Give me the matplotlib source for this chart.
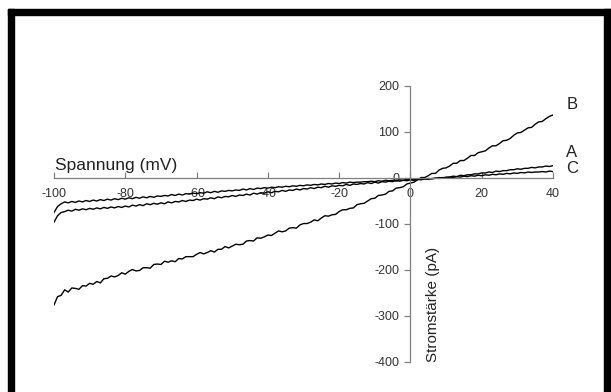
import numpy as np
import matplotlib
matplotlib.use("Agg")
import matplotlib.pyplot as plt
from matplotlib.patches import Rectangle

plt.rcParams['font.family'] = ['Liberation Sans', 'DejaVu Sans']
plt.rcParams['axes.unicode_minus'] = False

# Spannung in mV (Sweep von -100 bis +40 mV, 1 mV Schritte)
spannung = np.arange(-100, 41)

# Stromstaerke in pA
strom_b = [
    -276, -258, -255, -243, -248, -239, -240, -242, -234, -235,
    -229, -231, -225, -228, -219, -218, -213, -215, -212, -206,
    -209, -203, -199, -202, -201, -195, -195, -196, -188, -187,
    -188, -181, -183, -180, -182, -175, -176, -171, -171, -171,
    -166, -162, -165, -162, -158, -161, -155, -155, -149, -152,
    -148, -144, -145, -144, -137, -136, -137, -130, -131, -128,
    -124, -125, -120, -115, -117, -115, -109, -108, -109, -102,
    -99, -99, -96, -91, -93, -87, -82, -83, -80, -79,
    -73, -69, -69, -66, -65, -58, -56, -55, -50, -45,
    -44, -38, -37, -35, -29, -28, -22, -21, -19, -13,
    -11, -9, -4, 1, 1, 5, 10, 10, 17, 21,
    22, 26, 32, 32, 38, 38, 43, 49, 49, 55,
    57, 59, 65, 70, 70, 75, 81, 82, 86, 93,
    98, 99, 104, 109, 110, 117, 122, 123, 129, 134,
    137]

strom_a = [
    -96, -82, -75, -73, -70, -72, -68, -70, -67, -69,
    -66, -68, -65, -67, -64, -66, -63, -65, -62, -64,
    -61, -63, -59, -61, -58, -60, -56, -58, -55, -57,
    -54, -56, -52, -54, -51, -52, -49, -51, -48, -49,
    -46, -48, -45, -46, -43, -45, -41, -43, -40, -41,
    -38, -40, -37, -38, -35, -37, -33, -35, -32, -33,
    -30, -32, -29, -30, -27, -29, -26, -27, -24, -26,
    -23, -24, -21, -23, -20, -21, -18, -20, -17, -18,
    -16, -17, -14, -16, -13, -14, -12, -13, -10, -12,
    -9, -11, -8, -9, -7, -8, -5, -7, -5, -6,
    -4, -5, -3, -4, -2, -3, -1, -1, 1, 0,
    2, 2, 4, 3, 6, 5, 7, 7, 9, 9,
    11, 11, 13, 12, 15, 14, 16, 16, 18, 18,
    20, 19, 21, 21, 23, 22, 24, 24, 26, 25,
    27]

strom_c = [
    -75, -62, -56, -52, -54, -51, -53, -50, -52, -49,
    -51, -48, -50, -47, -49, -46, -48, -45, -47, -44,
    -46, -43, -45, -42, -44, -41, -43, -40, -42, -39,
    -40, -38, -39, -36, -38, -35, -37, -34, -35, -33,
    -34, -32, -33, -30, -32, -29, -31, -28, -29, -27,
    -28, -26, -27, -24, -26, -23, -25, -22, -23, -21,
    -22, -20, -21, -19, -20, -18, -19, -17, -18, -16,
    -17, -15, -16, -14, -15, -13, -14, -12, -13, -11,
    -12, -10, -11, -9, -10, -9, -9, -8, -8, -7,
    -8, -6, -7, -5, -6, -5, -5, -4, -5, -3,
    -4, -3, -3, -2, -2, -1, -2, 0, -1, 1,
    0, 2, 1, 3, 2, 4, 3, 5, 4, 6,
    5, 7, 6, 8, 7, 9, 8, 10, 9, 11,
    10, 12, 11, 13, 12, 13, 13, 14, 13, 15,
    14]

kurven = {'A': strom_a, 'B': strom_b, 'C': strom_c}
label_pos = {'B': 160, 'A': 55, 'C': 21}

x_ticks = [-100, -80, -60, -40, -20, 0, 20, 40]
y_ticks = [-400, -300, -200, -100, 0, 100, 200]

fig = plt.figure(figsize=(6.11, 3.92), dpi=100)

# schwarzer Rahmen (oben, links, rechts)
W, H = 611, 392
fig.patches.append(Rectangle((8 / W, 0), 6 / W, 383 / H, transform=fig.transFigure,
                             color='black', zorder=0))
fig.patches.append(Rectangle((8 / W, 377 / H), 603 / W, 6 / H, transform=fig.transFigure,
                             color='black', zorder=0))
fig.patches.append(Rectangle((604 / W, 0), 7 / W, 383 / H, transform=fig.transFigure,
                             color='black', zorder=0))

ax = fig.add_axes([54 / W, 30 / H, 499 / W, 276 / H])
ax.patch.set_alpha(0)

for name, werte in kurven.items():
    ax.plot(spannung, werte, color='black', lw=1.0)

ax.set_xlim(-100, 40)
ax.set_ylim(-400, 200)
ax.set_xticks(x_ticks)
ax.set_yticks(y_ticks)

ax.spines['top'].set_visible(False)
ax.spines['right'].set_visible(False)
ax.spines['left'].set_position(('data', 0))
ax.spines['bottom'].set_position(('data', 0))
for s in ['left', 'bottom']:
    ax.spines[s].set_color('#808080')
    ax.spines[s].set_linewidth(0.9)

ax.tick_params(axis='x', direction='in', length=4, width=0.9, color='#808080',
               labelsize=9, labelcolor='#333333', pad=7)
ax.tick_params(axis='y', direction='out', length=4, width=0.9, color='#808080',
               labelsize=9, labelcolor='#333333', pad=4)

ax.text(-99.7, 10, 'Spannung (mV)', fontsize=12.5, color='#222222', ha='left', va='bottom')
ax.text(6.2, -400, 'Stromstärke (pA)', fontsize=11, color='#222222', rotation=90,
        ha='center', va='bottom')

for name, y in label_pos.items():
    ax.text(45.3, y, name, fontsize=12, color='#222222', ha='center', va='center',
            clip_on=False)

fig.savefig('out.png', dpi=100)
